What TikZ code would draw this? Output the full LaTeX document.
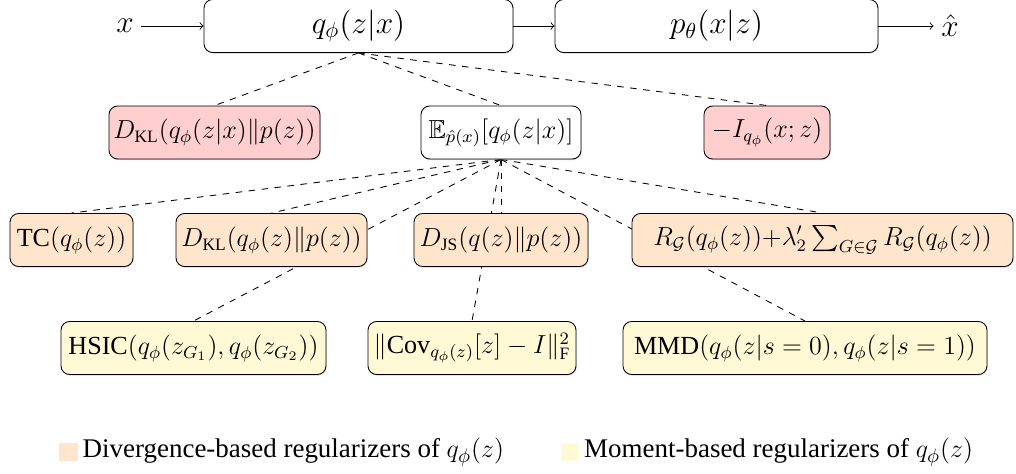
\documentclass[tikz,border=0pt]{standalone}
\usepackage{amsmath,amssymb}
\usepackage[no-math]{fontspec}
\setmainfont{Liberation Serif}
\usetikzlibrary{positioning,shadows,backgrounds}

\definecolor{klred}{RGB}{255,206,206}
\definecolor{divorange}{RGB}{255,229,204}
\definecolor{momyellow}{RGB}{255,249,214}

\begin{document}
\begin{tikzpicture}[x=0.46pt, y=-0.46pt, every node/.style={font=\fontsize{12}{14}\selectfont},
  box/.style={draw, rounded corners=4pt, minimum height=24.4pt, inner xsep=2pt,
    drop shadow={shadow xshift=0.3pt, shadow yshift=-0.5pt, opacity=0.35}},
  wd/.style={minimum width=#1*0.46pt},
  link/.style={dashed}]
  \useasboundingbox (0,0) rectangle (1016,473);

  %----- encoder / decoder -----
  \node (xin) at (125,26) {\Large $x$};
  \node[box, fill=white, wd=309] (enc) at (358.5,26) {\Large $q_\phi(z|x)$};
  \node[box, fill=white, wd=323] (dec) at (716.5,26) {\Large $p_\theta(x|z)$};
  \node (xhat) at (950,26) {\Large $\hat{x}$};
  \draw[->] (xin) -- (enc);
  \draw[->] (enc) -- (dec);
  \draw[->] (dec) -- (xhat);

  %----- terms of the ELBO -----
  \node[box, fill=klred, wd=211] (klx) at (214.5,132.5) {$D_{\text{KL}}(q_\phi(z|x)\|p(z))$};
  \node[box, fill=white, wd=160] (agg) at (501,132.5) {$\mathbb{E}_{\hat{p}(x)}[q_\phi(z|x)]$};
  \node[box, fill=klred, wd=126] (mi)  at (767,132.5) {$-I_{q_\phi}(x;z)$};

  %----- divergence-based -----
  \node[box, fill=divorange, wd=123] (tc)  at (71.5,240) {TC$(q_\phi(z))$};
  \node[box, fill=divorange, wd=191] (klz) at (271.5,240) {$D_{\text{KL}}(q_\phi(z)\|p(z))$};
  \node[box, fill=divorange, wd=174] (js)  at (501,240) {$D_{\text{JS}}(q(z)\|p(z))$};
  \node[box, fill=divorange, wd=381] (grp) at (822.5,240)
    {$R_{\mathcal{G}}(q_\phi(z)){+}\lambda'_2\sum_{G\in\mathcal{G}}R_{\mathcal{G}}(q_\phi(z))$};

  %----- moment-based -----
  \node[box, fill=momyellow, wd=265] (hsic) at (193.5,348) {HSIC$(q_\phi(z_{G_1}),q_\phi(z_{G_2}))$};
  \node[box, fill=momyellow, wd=208] (cov)  at (472,348) {$\|\text{Cov}_{q_\phi(z)}[z]-I\|^2_{\text{F}}$};
  \node[box, fill=momyellow, wd=364] (mmd)  at (805,348) {MMD$(q_\phi(z|s=0),q_\phi(z|s=1))$};

  %----- dashed links (behind the boxes) -----
  \begin{scope}[on background layer]
    \foreach \t in {klx,agg,mi}
      \draw[link] (enc.south) -- (\t.north);
    \foreach \t in {tc,klz,js,grp,hsic,cov,mmd}
      \draw[link] (agg.south) -- (\t.north);
  \end{scope}

  %----- legend -----
  \node[fill=divorange, minimum size=8.3pt, inner sep=0pt] (keydiv) at (68.5,452) {};
  \node[right=0pt of keydiv, inner xsep=2pt, font=\fontsize{12.4}{15}\selectfont] (legdiv)
    {Divergence-based regularizers of $q_\phi(z)$};
  \node[fill=momyellow, minimum size=8.3pt, inner sep=0pt] (keymom) at (570,452) {};
  \node[right=0pt of keymom, inner xsep=2pt, font=\fontsize{12.4}{15}\selectfont] (legmom)
    {Moment-based regularizers of $q_\phi(z)$};
\end{tikzpicture}
\end{document}
